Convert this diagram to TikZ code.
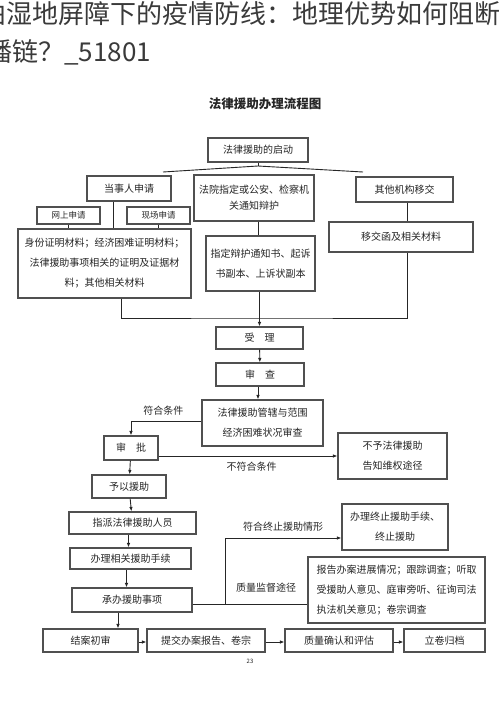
\documentclass[tikz,border=0pt]{standalone}
\usepackage{fontspec}
\setmainfont{Noto Sans CJK SC}
\usepackage{tikz}
\usetikzlibrary{arrows.meta,calc,positioning}
\definecolor{inkgray}{HTML}{262626}
\definecolor{edgegray}{HTML}{505050}
\definecolor{headgray}{HTML}{3a3a3a}

\begin{document}
\begin{tikzpicture}[
  x=1pt, y=-1pt,
  >={Latex[length=4.5pt,width=3.5pt]},
  box/.style={draw=edgegray, line width=1.1pt, align=center, inner sep=2pt,
              text=inkgray, font=\fontsize{10}{20}\selectfont},
  smallbox/.style={box, font=\fontsize{8.5}{10}\selectfont},
  flow/.style={->, draw=inkgray, line width=0.9pt},
  wire/.style={draw=inkgray, line width=0.9pt},
  note/.style={text=inkgray, font=\fontsize{10}{12}\selectfont},
  head/.style={anchor=base west, inner sep=0pt, text=headgray,
               font=\fontsize{26}{30}\selectfont}
]
  \useasboundingbox[fill=white] (0,0) rectangle (500,707);

  % page heading, cut off at both sides
  \begin{scope}
    \clip (0,0) rectangle (500,707);
    \node[head] (headA) at (-20,23) {泊湿地屏障下的疫情防线：地理优势如何阻断};
    \node[head] (headB) at (-14,61) {播链？\_51801};
  \end{scope}

  \node[text=inkgray, font=\bfseries\fontsize{12.5}{14}\selectfont] (title) at (265,104) {法律援助办理流程图};

  % start and three sources
  \node[box, minimum width=100pt, minimum height=24pt] (start) at (258,150) {法律援助的启动};
  \node[box, minimum width=84pt, minimum height=25pt] (party) at (129,188.5) {当事人申请};
  \node[box, minimum width=120pt, minimum height=46pt, font=\fontsize{10}{16}\selectfont] (court) at (254,198)
    {法院指定或公安、检察机\\关通知辩护};
  \node[box, minimum width=97pt, minimum height=25pt] (other) at (404.5,189.5) {其他机构移交};
  \node[smallbox, minimum width=63pt, minimum height=17pt] (online) at (68.5,215.5) {网上申请};
  \node[smallbox, minimum width=63pt, minimum height=17pt] (onsite) at (158.5,215.5) {现场申请};

  \node[box, minimum width=173pt, minimum height=69pt] (materials) at (104.5,263.5)
    {身份证明材料；经济困难证明材料；\\法律援助事项相关的证明及证据材\\料；其他相关材料};
  \node[box, minimum width=109pt, minimum height=55pt] (notice) at (260.5,263.5)
    {指定辩护通知书、起诉\\书副本、上诉状副本};
  \node[box, minimum width=144pt, minimum height=30pt] (transfer) at (401,237) {移交函及相关材料};

  % main column
  \node[box, minimum width=87pt, minimum height=22pt] (accept) at (259.5,338) {受　理};
  \node[box, minimum width=88pt, minimum height=23pt] (review) at (260,374.5) {审　查};
  \node[box, minimum width=121pt, minimum height=46pt] (scope) at (262.5,423)
    {法律援助管辖与范围\\经济困难状况审查};
  \node[box, minimum width=54pt, minimum height=24pt] (approve) at (131,448) {审　批};
  \node[box, minimum width=109pt, minimum height=46pt] (deny) at (392.5,456)
    {不予法律援助\\告知维权途径};
  \node[box, minimum width=74pt, minimum height=23pt] (grant) at (129,486.5) {予以援助};
  \node[box, minimum width=127pt, minimum height=22pt] (assign) at (132.5,523) {指派法律援助人员};
  \node[box, minimum width=121pt, minimum height=21pt] (formal) at (130.5,558.5) {办理相关援助手续};
  \node[box, minimum width=120pt, minimum height=24pt] (handle) at (132,600) {承办援助事项};
  \node[box, minimum width=106pt, minimum height=46pt] (stop) at (395,527)
    {办理终止援助手续、\\终止援助};
  \node[box, minimum width=177pt, minimum height=66pt, align=left] (report) at (396.5,590)
    {报告办案进展情况；跟踪调查；听取\\受援助人意见、庭审旁听、征询司法\\执法机关意见；卷宗调查};

  % closing row
  \node[box, minimum width=95pt, minimum height=23pt] (close) at (90.5,640.5) {结案初审};
  \node[box, minimum width=118pt, minimum height=23pt] (submit) at (206,640.5) {提交办案报告、卷宗};
  \node[box, minimum width=108pt, minimum height=23pt] (assess) at (339,640.5) {质量确认和评估};
  \node[box, minimum width=81pt, minimum height=23pt] (archive) at (444.5,640.5) {立卷归档};

  \node[text=inkgray, font=\fontsize{6}{7}\selectfont] (page) at (250,661) {23};

  % fork under the start
  \coordinate (fork) at (258,166);
  \coordinate (forkL) at (163,172);
  \coordinate (forkR) at (363,172);
  \draw[wire] (start.south) -- (fork);
  \draw[wire] (forkL) -- (fork) -- (forkR);

  % sources down to their papers
  \draw[wire] ([xshift=-16pt]party.south) -- ([xshift=-16pt]party.south |- materials.north);
  \draw[wire] (online.south) -- (online.south |- materials.north);
  \draw[wire] (onsite.south) -- (onsite.south |- materials.north);
  \draw[wire] (court.south -| start) -- (notice.north -| start);
  \draw[wire] ([xshift=2.5pt]other.south) -- ([xshift=2.5pt]other.south |- transfer.north);

  % papers join into acceptance
  \coordinate (join) at (259.5,318);
  \draw[wire] ([xshift=16.5pt]materials.south) |- (join) -| ([xshift=6pt]transfer.south);
  \draw[flow] (notice.south -| accept) -- (accept.north);
  \draw[flow] (accept) -- (review);
  \draw[flow] (review.south -| start) -- (scope.north -| start);

  \draw[flow] ([yshift=2pt]scope.west) -| (approve.north)
    node[note, above, pos=0.27, yshift=2pt] {符合条件};
  \draw[flow] (approve.east |- deny.west) -- (deny.west)
    node[note, below, pos=0.52, yshift=-2pt] {不符合条件};
  \draw[flow] (approve) -- (grant);
  \draw[flow] (grant) -- (assign);
  \draw[flow] ([xshift=-4pt]assign.south) -- ([xshift=-4pt]assign.south |- formal.north);
  \draw[flow] ([xshift=-4pt]formal.south) -- ([xshift=-4pt]formal.south |- handle.north);

  % supervision branch
  \coordinate (split) at (225,604);
  \draw[wire] ([yshift=-4pt]handle.east) -- ([yshift=-4pt]handle.east -| report.west);
  \draw[flow] (split) |- ([yshift=-11pt]stop.west)
    node[note, above, pos=0.75, yshift=3pt] {符合终止援助情形};
  \node[note] (supervise) at (266,588) {质量监督途径};

  \draw[flow] ([xshift=-14pt]handle.south) -- ([xshift=-14pt]handle.south |- close.north);
  \draw[flow] ([yshift=-1.5pt]close.east) -- ([yshift=-1.5pt]submit.west);
  \draw[flow] ([yshift=-1.5pt]submit.east) -- ([yshift=-1.5pt]assess.west);
  \draw[flow] ([yshift=-1.5pt]assess.east) -- ([yshift=-1.5pt]archive.west);
\end{tikzpicture}
\end{document}
